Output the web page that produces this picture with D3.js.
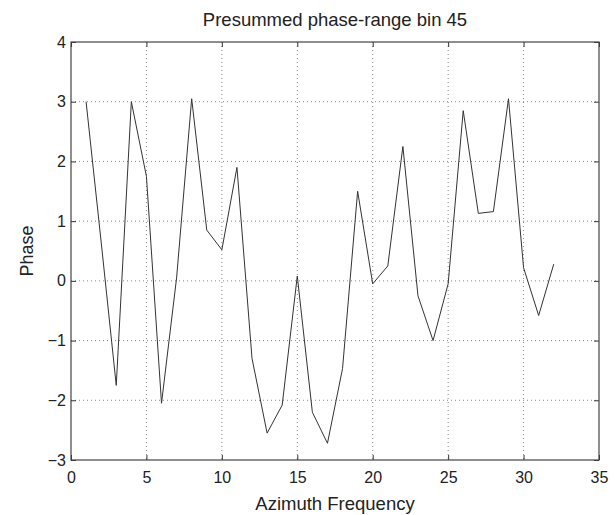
<!DOCTYPE html>
<html>
<head>
<meta charset="utf-8">
<script src="https://cdn.jsdelivr.net/npm/d3@7"></script>
<style>
  html, body { margin: 0; padding: 0; background: #fff; }
  svg text { font-family: "Liberation Sans", Arial, sans-serif; fill: #222; }
</style>
</head>
<body>
<div id="main"></div>
<script>
!(function () {
  'use strict';

  // data
  const frequencies = [1, 2, 3, 4, 5, 6, 7, 8, 9, 10, 11, 12, 13, 14, 15, 16,
    17, 18, 19, 20, 21, 22, 23, 24, 25, 26, 27, 28, 29, 30, 31, 32];
  const phases = [3.0, 0.65, -1.75, 3.0, 1.75, -2.05, 0.05, 3.05, 0.85, 0.52, 1.9, -1.3,
    -2.55, -2.08, 0.08, -2.2, -2.72, -1.47, 1.5, -0.05, 0.25, 2.25, -0.25, -1.0,
    -0.05, 2.85, 1.13, 1.16, 3.05, 0.22, -0.58, 0.28];
  const xTicks = [0, 5, 10, 15, 20, 25, 30, 35];
  const yTicks = [-3, -2, -1, 0, 1, 2, 3, 4];
  const titleText = 'Presummed phase-range bin 45';
  const xLabelText = 'Azimuth Frequency';
  const yLabelText = 'Phase';

  // configuration
  const canvas = {
    width: 615,
    height: 515,
    padding: { top: 42, right: 16, bottom: 55, left: 71 }
  };
  const plot = {
    left: canvas.padding.left,
    right: canvas.width - canvas.padding.right,
    top: canvas.padding.top,
    bottom: canvas.height - canvas.padding.bottom
  };

  const svg = d3.select('#main')
    .append('svg')
    .attr('width', canvas.width)
    .attr('height', canvas.height);

  const xScale = d3.scaleLinear()
    .domain([0, 35])
    .range([plot.left, plot.right]);
  const yScale = d3.scaleLinear()
    .domain([-3, 4])
    .range([plot.bottom, plot.top]);

  // grid (dotted)
  const grid = svg.append('g').attr('class', 'grid');
  grid.selectAll('line.gx')
    .data(xTicks.slice(1, -1))
    .enter().append('line')
    .attr('class', 'gx')
    .attr('x1', d => xScale(d)).attr('x2', d => xScale(d))
    .attr('y1', plot.top).attr('y2', plot.bottom)
    .attr('stroke', '#888').attr('stroke-width', 1)
    .attr('stroke-dasharray', '1,3');
  grid.selectAll('line.gy')
    .data(yTicks.slice(1, -1))
    .enter().append('line')
    .attr('class', 'gy')
    .attr('x1', plot.left).attr('x2', plot.right)
    .attr('y1', d => yScale(d)).attr('y2', d => yScale(d))
    .attr('stroke', '#888').attr('stroke-width', 1)
    .attr('stroke-dasharray', '1,3');

  // axes, ticks pointing inward on all four sides
  function styleAxis(g) {
    g.select('.domain').remove();
    g.selectAll('.tick line').attr('stroke', '#333');
    g.selectAll('.tick text')
      .attr('font-size', 16)
      .attr('font-family', '"Liberation Sans", Arial, sans-serif')
      .attr('fill', '#222');
  }

  svg.append('g')
    .attr('transform', 'translate(0,' + plot.bottom + ')')
    .call(d3.axisBottom(xScale).tickValues(xTicks).tickFormat(d3.format('d'))
      .tickSizeInner(-5).tickSizeOuter(0).tickPadding(12))
    .call(styleAxis);
  svg.append('g')
    .attr('transform', 'translate(0,' + plot.top + ')')
    .call(d3.axisTop(xScale).tickValues(xTicks).tickSizeInner(-5).tickSizeOuter(0).tickFormat(''))
    .call(styleAxis);
  svg.append('g')
    .attr('transform', 'translate(' + plot.left + ',0)')
    .call(d3.axisLeft(yScale).tickValues(yTicks).tickFormat(d3.format('d'))
      .tickSizeInner(-5).tickSizeOuter(0).tickPadding(5))
    .call(styleAxis);
  svg.append('g')
    .attr('transform', 'translate(' + plot.right + ',0)')
    .call(d3.axisRight(yScale).tickValues(yTicks).tickSizeInner(-5).tickSizeOuter(0).tickFormat(''))
    .call(styleAxis);

  // box
  svg.append('rect')
    .attr('x', plot.left).attr('y', plot.top)
    .attr('width', plot.right - plot.left)
    .attr('height', plot.bottom - plot.top)
    .attr('fill', 'none')
    .attr('stroke', '#444')
    .attr('stroke-width', 1.2);

  // series
  const line = d3.line()
    .x((d, i) => xScale(frequencies[i]))
    .y(d => yScale(d));
  svg.append('path')
    .datum(phases)
    .attr('d', line)
    .attr('fill', 'none')
    .attr('stroke', '#333')
    .attr('stroke-width', 1);

  // labels
  svg.append('text')
    .attr('x', (plot.left + plot.right) / 2)
    .attr('y', 26)
    .attr('text-anchor', 'middle')
    .attr('font-size', 18.5)
    .text(titleText);
  svg.append('text')
    .attr('x', (plot.left + plot.right) / 2)
    .attr('y', 510)
    .attr('text-anchor', 'middle')
    .attr('font-size', 18.5)
    .text(xLabelText);
  svg.append('text')
    .attr('transform', 'translate(33,' + ((plot.top + plot.bottom) / 2) + ') rotate(-90)')
    .attr('text-anchor', 'middle')
    .attr('font-size', 18)
    .text(yLabelText);
}());
</script>
</body>
</html>
